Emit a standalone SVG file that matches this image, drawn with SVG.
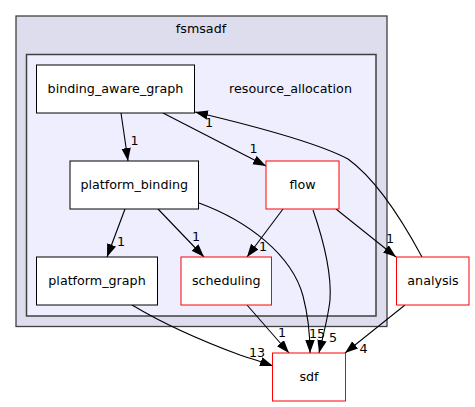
<svg xmlns="http://www.w3.org/2000/svg" width="475" height="407" viewBox="0 0 475 407">
<style>
text{font-family:"DejaVu Sans",sans-serif;font-size:12.7px;fill:#000;text-anchor:middle}
.n{fill:#fff;stroke:#000;stroke-width:1}
.r{fill:#fff;stroke:#ff0000;stroke-width:1}
.e{fill:none;stroke:#000;stroke-width:1.1}
</style>
<defs>
<marker id="ah" markerUnits="userSpaceOnUse" markerWidth="14" markerHeight="10" refX="13" refY="4.7" orient="auto">
<path d="M0,0 L13,4.7 L0,9.4 z" fill="#000"/>
</marker>
</defs>
<rect width="475" height="407" fill="#fff"/>
<g id="cluster_fsmsadf">
<rect x="16" y="16" width="371" height="310.5" fill="#ddddee" stroke="#404040" stroke-width="1.3"/>
<text x="201" y="33">fsmsadf</text>
</g>
<g id="cluster_resource_allocation">
<rect x="26.5" y="54.5" width="349.5" height="261.5" fill="#eeeeff" stroke="#404040" stroke-width="1.5"/>
<text x="290.5" y="93">resource_allocation</text>
</g>
<g id="connectors">
<path class="e" marker-end="url(#ah)" d="M121,113 L128,161"/>
<text x="134.5" y="145">1</text>
<path class="e" marker-end="url(#ah)" d="M163,113 L266,166"/>
<text x="253.5" y="153">1</text>
<path class="e" marker-end="url(#ah)" d="M422,257 C408,231 380,182 348,159 C318,143 250,125 195,112"/>
<text x="209" y="127">1</text>
<path class="e" marker-end="url(#ah)" d="M283,209 L247,257"/>
<text x="263" y="251">1</text>
<path class="e" marker-end="url(#ah)" d="M158,209 L204,257"/>
<text x="196" y="241">1</text>
<path class="e" marker-end="url(#ah)" d="M125,209 L107,257"/>
<text x="121" y="246">1</text>
<path class="e" marker-end="url(#ah)" d="M199,203 C248,221 292,255 303,296 C308,315 310,333 310,353"/>
<text x="317" y="338">15</text>
<path class="e" marker-end="url(#ah)" d="M313,210 C322,236 332,270 330,300 C328,318 323,336 319,353"/>
<text x="333" y="342">5</text>
<path class="e" marker-end="url(#ah)" d="M336,209 L396,257"/>
<text x="390" y="243">1</text>
<path class="e" marker-end="url(#ah)" d="M247,305 L289,353"/>
<text x="282" y="337">1</text>
<path class="e" marker-end="url(#ah)" d="M132,305 C162,323 202,341 240,355 C252,359 262,362 273,366"/>
<text x="257" y="357">13</text>
<path class="e" marker-end="url(#ah)" d="M405,305 L345,353"/>
<text x="363.5" y="353">4</text>
</g>
<g id="binding_aware_graph">
<rect class="n" x="36.5" y="65" width="158" height="48"/>
<text x="115.5" y="93">binding_aware_graph</text>
</g>
<g id="platform_binding">
<rect class="n" x="70" y="161" width="128.5" height="48"/>
<text x="134.3" y="189">platform_binding</text>
</g>
<g id="platform_graph">
<rect class="n" x="36.5" y="257" width="121" height="48"/>
<text x="97" y="285">platform_graph</text>
</g>
<g id="scheduling">
<rect class="r" x="181" y="257" width="90.5" height="48"/>
<text x="226.3" y="285">scheduling</text>
</g>
<g id="flow">
<rect class="r" x="266" y="161" width="73" height="48"/>
<text x="302.5" y="189">flow</text>
</g>
<g id="analysis">
<rect class="r" x="396.5" y="257" width="72.5" height="48"/>
<text x="433" y="285">analysis</text>
</g>
<g id="sdf">
<rect class="r" x="272.5" y="353" width="73" height="48"/>
<text x="309" y="381">sdf</text>
</g>
</svg>
